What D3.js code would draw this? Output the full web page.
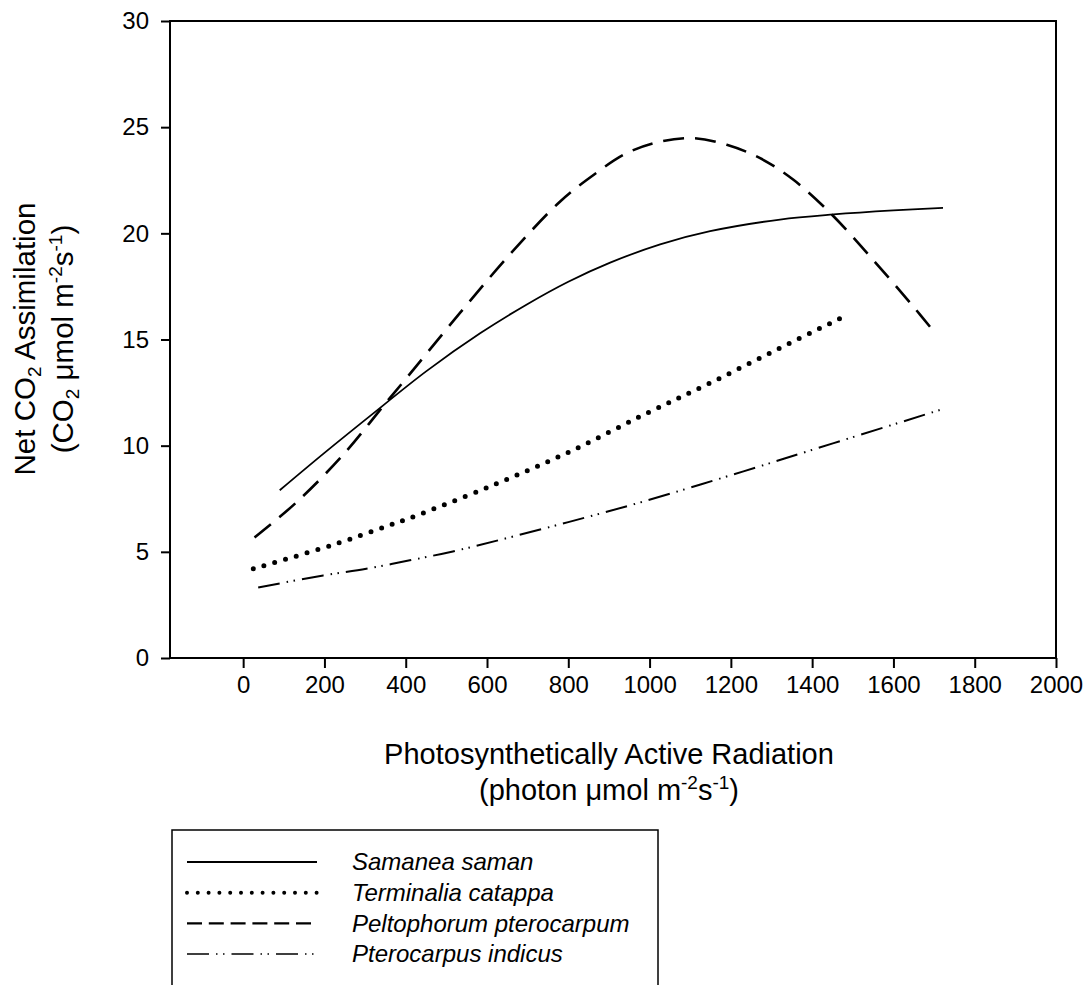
<!DOCTYPE html>
<html>
<head>
<meta charset="utf-8">
<script src="https://cdn.jsdelivr.net/npm/d3@7"></script>
<style>
	body { margin: 0; background: #fff; }
	svg { display: block; font-family: "Liberation Sans", Arial, sans-serif; }
</style>
</head>
<body>
<div id="chart"></div>
<script>
// PAR values (x) and net CO2 assimilation (y)
var samaneaX = [90, 200, 311, 451, 583, 698, 800, 903, 1026, 1149, 1321, 1453, 1600, 1722];
var samaneaY = [7.9, 9.66, 11.38, 13.51, 15.29, 16.65, 17.72, 18.62, 19.48, 20.1, 20.65, 20.89, 21.08, 21.2];

var terminaliaX = [25, 221, 357, 410, 607, 796, 985, 1149, 1321, 1486];
var terminaliaY = [4.2, 5.33, 6.23, 6.59, 8.08, 9.65, 11.45, 12.95, 14.6, 16.15];

var peltophorumX = [28, 131, 246, 344, 394, 533, 656, 780, 862, 944, 1026, 1108, 1190, 1272, 1354, 1445, 1543, 1642, 1707];
var peltophorumY = [5.68, 7.33, 9.57, 11.85, 13.0, 16.24, 19.0, 21.5, 22.75, 23.78, 24.32, 24.48, 24.17, 23.54, 22.52, 20.95, 18.9, 16.71, 15.2];

var pterocarpusX = [37, 197, 303, 410, 516, 627, 800, 985, 1231, 1453, 1716];
var pterocarpusY = [3.32, 3.89, 4.2, 4.6, 5.02, 5.54, 6.4, 7.37, 8.79, 10.12, 11.69];

var xTicks = [0, 200, 400, 600, 800, 1000, 1200, 1400, 1600, 1800, 2000];
var yTicks = [0, 5, 10, 15, 20, 25, 30];

var speciesNames = ['Samanea saman', 'Terminalia catappa', 'Peltophorum pterocarpum', 'Pterocarpus indicus'];

(function() {
	var width = 1091, height = 985;
	var plot = { left: 170, right: 1056, top: 21, bottom: 658 };

	var svg = d3.select('#chart').append('svg')
		.attr('width', width)
		.attr('height', height);

	var x = d3.scaleLinear().domain([-180, 2000]).range([plot.left, plot.right]);
	var y = d3.scaleLinear().domain([0, 30]).range([plot.bottom, plot.top]);

	// frame
	svg.append('rect')
		.attr('x', plot.left)
		.attr('y', plot.top)
		.attr('width', plot.right - plot.left)
		.attr('height', plot.bottom - plot.top)
		.attr('fill', 'none')
		.attr('stroke', '#000')
		.attr('stroke-width', 2);

	var xAxis = svg.append('g')
		.attr('transform', 'translate(0,' + plot.bottom + ')')
		.call(d3.axisBottom(x).tickValues(xTicks).tickFormat(d3.format('d'))
			.tickSize(10).tickSizeOuter(0).tickPadding(8));
	xAxis.select('.domain').remove();
	xAxis.selectAll('line').attr('stroke-width', 2);
	xAxis.selectAll('text').attr('font-size', 24).attr('fill', '#000')
		.attr('font-family', '"Liberation Sans", Arial, sans-serif');

	var yAxis = svg.append('g')
		.attr('transform', 'translate(' + plot.left + ',0)')
		.call(d3.axisLeft(y).tickValues(yTicks).tickFormat(d3.format('d'))
			.tickSize(9).tickSizeOuter(0).tickPadding(12));
	yAxis.select('.domain').remove();
	yAxis.selectAll('line').attr('stroke-width', 2);
	yAxis.selectAll('text').attr('font-size', 24).attr('fill', '#000')
		.attr('font-family', '"Liberation Sans", Arial, sans-serif');

	// series
	var styles = [
		{ x: samaneaX, y: samaneaY, width: 1.8, dash: null, cap: 'butt' },
		{ x: terminaliaX, y: terminaliaY, width: 5, dash: '0,11.2', cap: 'round' },
		{ x: peltophorumX, y: peltophorumY, width: 2.6, dash: '21,11', cap: 'butt' },
		{ x: pterocarpusX, y: pterocarpusY, width: 2, dash: '22,7,1.5,5.5,1.5,7', cap: 'butt' }
	];

	var line = d3.line()
		.x(function(d) { return x(d[0]); })
		.y(function(d) { return y(d[1]); })
		.curve(d3.curveCatmullRom.alpha(0.5));

	styles.forEach(function(s) {
		var pts = s.x.map(function(v, i) { return [v, s.y[i]]; });
		svg.append('path')
			.datum(pts)
			.attr('d', line)
			.attr('fill', 'none')
			.attr('stroke', '#000')
			.attr('stroke-width', s.width)
			.attr('stroke-linecap', s.cap)
			.attr('stroke-dasharray', s.dash);
	});

	// axis titles
	var xt = svg.append('g').attr('font-size', 29).attr('fill', '#000');
	xt.append('text')
		.attr('x', 609).attr('y', 764)
		.attr('text-anchor', 'middle')
		.text('Photosynthetically Active Radiation');
	var xt2 = xt.append('text')
		.attr('x', 609).attr('y', 800)
		.attr('text-anchor', 'middle');
	xt2.append('tspan').text('(photon \u03bcmol m');
	xt2.append('tspan').attr('font-size', 19).attr('dy', -11).text('-2');
	xt2.append('tspan').attr('dy', 11).text('s');
	xt2.append('tspan').attr('font-size', 19).attr('dy', -11).text('-1');
	xt2.append('tspan').attr('dy', 11).text(')');

	var yt = svg.append('g').attr('font-size', 29.5).attr('fill', '#000');
	var yt1 = yt.append('text')
		.attr('transform', 'translate(35,339) rotate(-90)')
		.attr('text-anchor', 'middle');
	yt1.append('tspan').text('Net CO');
	yt1.append('tspan').attr('font-size', 19).attr('dy', 6).text('2');
	yt1.append('tspan').attr('dy', -6).text(' Assimilation');

	var yt2 = yt.append('text')
		.attr('transform', 'translate(73,339) rotate(-90)')
		.attr('text-anchor', 'middle');
	yt2.append('tspan').text('(CO');
	yt2.append('tspan').attr('font-size', 19).attr('dy', 6).text('2');
	yt2.append('tspan').attr('dy', -6).text(' \u03bcmol m');
	yt2.append('tspan').attr('font-size', 19).attr('dy', -11).text('-2');
	yt2.append('tspan').attr('dy', 11).text('s');
	yt2.append('tspan').attr('font-size', 19).attr('dy', -11).text('-1');
	yt2.append('tspan').attr('dy', 11).text(')');

	// legend
	var legend = svg.append('g');
	legend.append('rect')
		.attr('x', 172).attr('y', 830)
		.attr('width', 486).attr('height', 200)
		.attr('fill', 'none')
		.attr('stroke', '#000')
		.attr('stroke-width', 1.5);

	var legendDash = [null, '0,10.8', '15,6.8', '22,7,1.5,5.5,1.5,7'];
	var legendWidth = [1.8, 4, 2.4, 1.6];
	var rowY = d3.scalePoint().domain(speciesNames).range([862, 954]);

	speciesNames.forEach(function(name, i) {
		var row = legend.append('g').attr('transform', 'translate(0,' + rowY(name) + ')');
		row.append('line')
			.attr('x1', 187).attr('x2', 317)
			.attr('stroke', '#000')
			.attr('stroke-width', legendWidth[i])
			.attr('stroke-linecap', i === 1 ? 'round' : 'butt')
			.attr('stroke-dasharray', legendDash[i]);
		row.append('text')
			.attr('x', 352).attr('dy', '0.35em')
			.attr('font-size', 24)
			.attr('font-style', 'italic')
			.text(name);
	});
})();
</script>
</body>
</html>
